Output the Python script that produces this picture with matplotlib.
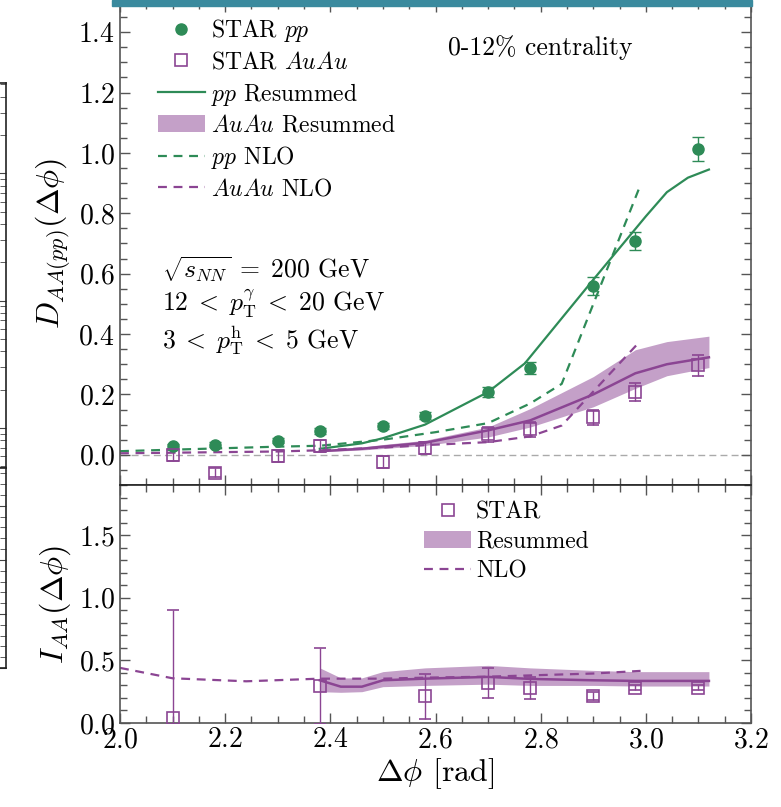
import numpy as np
import matplotlib
matplotlib.use("Agg")
import matplotlib.pyplot as plt
from matplotlib.patches import Rectangle, Patch
from matplotlib.lines import Line2D
from matplotlib.ticker import MultipleLocator, NullFormatter

plt.rcParams["font.family"] = "serif"
plt.rcParams["font.serif"] = ["cmr10"]
plt.rcParams["mathtext.fontset"] = "cm"
plt.rcParams["axes.formatter.use_mathtext"] = True

GREEN = "#2e8b57"
PURPLE = "#8b4593"
BAND = "#c4a0c8"
SPINE = "#555555"
DASH = (0, (4, 3))

# ---- STAR data, top panel
x_star = [2.10, 2.18, 2.30, 2.38, 2.50, 2.58, 2.70, 2.78, 2.90, 2.98, 3.10]
pp_star = [0.028, 0.033, 0.047, 0.080, 0.097, 0.129, 0.208, 0.289, 0.558, 0.708, 1.012]
pp_err = [0.008, 0.008, 0.008, 0.010, 0.010, 0.012, 0.015, 0.020, 0.030, 0.030, 0.040]
aa_star = [-0.002, -0.060, -0.004, 0.028, -0.023, 0.023, 0.068, 0.084, 0.124, 0.207, 0.296]
aa_err = [0.020, 0.015, 0.020, 0.020, 0.020, 0.020, 0.025, 0.025, 0.025, 0.030, 0.035]

# ---- theory curves, top panel
x_pp_res = [2.38, 2.46, 2.50, 2.58, 2.70, 2.77, 2.90, 2.95, 3.00, 3.04, 3.08, 3.12]
pp_res = [0.020, 0.038, 0.055, 0.100, 0.208, 0.303, 0.580, 0.685, 0.790, 0.870, 0.918, 0.945]

x_aa_res = [2.38, 2.46, 2.50, 2.58, 2.70, 2.78, 2.90, 2.98, 3.04, 3.12]
aa_res = [0.012, 0.020, 0.027, 0.040, 0.081, 0.114, 0.200, 0.270, 0.300, 0.323]
aa_res_lo = [0.010, 0.016, 0.021, 0.031, 0.059, 0.092, 0.159, 0.220, 0.262, 0.289]
aa_res_hi = [0.015, 0.026, 0.034, 0.048, 0.092, 0.153, 0.259, 0.348, 0.375, 0.393]

x_pp_nlo = [2.00, 2.10, 2.20, 2.30, 2.38, 2.50, 2.60, 2.70, 2.78, 2.84, 2.99]
pp_nlo = [0.012, 0.017, 0.022, 0.027, 0.030, 0.050, 0.075, 0.105, 0.170, 0.235, 0.895]

x_aa_nlo = [2.00, 2.10, 2.20, 2.30, 2.38, 2.50, 2.58, 2.70, 2.78, 2.84, 2.99]
aa_nlo = [0.005, 0.007, 0.009, 0.011, 0.015, 0.024, 0.032, 0.042, 0.061, 0.097, 0.378]

# ---- bottom panel (I_AA)
x_iaa = [2.10, 2.38, 2.58, 2.70, 2.78, 2.90, 2.98, 3.10]
iaa_star = [0.042, 0.296, 0.214, 0.323, 0.278, 0.214, 0.283, 0.283]
iaa_err = [0.86, 0.30, 0.18, 0.12, 0.09, 0.03, 0.02, 0.02]

x_iaa_res = [2.38, 2.42, 2.46, 2.50, 2.58, 2.70, 2.78, 2.90, 2.98, 3.12]
iaa_res = [0.341, 0.290, 0.290, 0.341, 0.354, 0.368, 0.352, 0.341, 0.336, 0.336]
iaa_res_lo = [0.250, 0.245, 0.250, 0.290, 0.300, 0.310, 0.300, 0.300, 0.295, 0.295]
iaa_res_hi = [0.440, 0.360, 0.360, 0.410, 0.440, 0.460, 0.440, 0.420, 0.410, 0.410]

x_iaa_nlo = [2.00, 2.10, 2.24, 2.38, 2.50, 2.58, 2.70, 2.78, 2.90, 2.99]
iaa_nlo = [0.440, 0.357, 0.333, 0.354, 0.354, 0.362, 0.370, 0.380, 0.395, 0.416]


def style_axis(ax):
    for s in ax.spines.values():
        s.set_color(SPINE)
        s.set_linewidth(1.2)
    ax.tick_params(which="both", direction="in", top=True, right=True,
                   color=SPINE, width=1.0, labelsize=20)
    ax.tick_params(which="major", length=7)
    ax.tick_params(which="minor", length=5)
    ax.xaxis.set_major_locator(MultipleLocator(0.2))
    ax.xaxis.set_minor_locator(MultipleLocator(0.05))


W, H = 781, 807
fig = plt.figure(figsize=(W / 100, H / 100), dpi=100)

left = 120 / W
width = 631 / W
ax1 = fig.add_axes([left, (H - 485) / H, width, 483 / H])
ax2 = fig.add_axes([left, (H - 723) / H, width, 238 / H])

# ---------- top panel
ax1.axhline(0.0, color="#aaaaaa", lw=1.0, ls=(0, (5, 3)), zorder=0)
ax1.errorbar(x_star, pp_star, yerr=pp_err, fmt="o", color=GREEN, ms=8,
             capsize=4, elinewidth=1.0, zorder=5)
ax1.errorbar(x_star, aa_star, yerr=aa_err, fmt="s", color=PURPLE, mfc="none",
             ms=8, mew=1.2, capsize=4, elinewidth=1.0, zorder=5)
ax1.plot(x_pp_res, pp_res, color=GREEN, lw=1.6)
ax1.fill_between(x_aa_res, aa_res_lo, aa_res_hi, color=BAND, lw=0)
ax1.plot(x_aa_res, aa_res, color=PURPLE, lw=1.8)
ax1.plot(x_pp_nlo, pp_nlo, color=GREEN, lw=1.6, ls=DASH)
ax1.plot(x_aa_nlo, aa_nlo, color=PURPLE, lw=1.6, ls=DASH)

ax1.set_xlim(2.0, 3.2)
ax1.set_ylim(-0.1, 1.5)
style_axis(ax1)
ax1.yaxis.set_minor_locator(MultipleLocator(0.05))
ax1.set_yticks(np.arange(0.0, 1.41, 0.2))
ax1.tick_params(labelbottom=False)
ax1.set_ylabel(r"$D_{AA(pp)}(\Delta\phi)$", fontsize=23, labelpad=4)

top_handles = [
    Line2D([], [], marker="o", ls="none", color=GREEN, ms=8),
    Line2D([], [], marker="s", ls="none", color=PURPLE, mfc="none", ms=8, mew=1.2),
    Line2D([], [], color=GREEN, lw=1.6),
    Patch(color=BAND, lw=0),
    Line2D([], [], color=GREEN, lw=1.6, ls=DASH),
    Line2D([], [], color=PURPLE, lw=1.6, ls=DASH),
]
top_labels = [r"STAR $pp$", r"STAR $AuAu$", r"$pp$ Resummed",
              r"$AuAu$ Resummed", r"$pp$ NLO", r"$AuAu$ NLO"]
ax1.legend(top_handles, top_labels, loc="upper left",
           bbox_to_anchor=(0.026, 1.012), frameon=False, fontsize=17,
           handlelength=2.0, handletextpad=0.25, labelspacing=0.3)

ax1.text(0.52, 0.905, "0-12% centrality", transform=ax1.transAxes,
         fontsize=18.5, va="center")
ax1.text(0.067, 0.445, r"$\sqrt{s_{NN}}\;=\;200$ GeV", transform=ax1.transAxes,
         fontsize=18.5, va="center")
ax1.text(0.067, 0.375, r"$12\;<\;p_{\mathrm{T}}^{\gamma}\;<\;20$ GeV",
         transform=ax1.transAxes, fontsize=18.5, va="center")
ax1.text(0.067, 0.30, r"$3\;<\;p_{\mathrm{T}}^{\mathrm{h}}\;<\;5$ GeV",
         transform=ax1.transAxes, fontsize=18.5, va="center")

# ---------- bottom panel
ax2.errorbar(x_iaa, iaa_star, yerr=iaa_err, fmt="s", color=PURPLE, mfc="none",
             ms=8, mew=1.2, capsize=4, elinewidth=1.0, zorder=5)
ax2.fill_between(x_iaa_res, iaa_res_lo, iaa_res_hi, color=BAND, lw=0)
ax2.plot(x_iaa_res, iaa_res, color=PURPLE, lw=1.8)
ax2.plot(x_iaa_nlo, iaa_nlo, color=PURPLE, lw=1.6, ls=DASH)

ax2.set_xlim(2.0, 3.2)
ax2.set_ylim(0.0, 1.9)
style_axis(ax2)
ax2.yaxis.set_major_locator(MultipleLocator(0.5))
ax2.yaxis.set_minor_locator(MultipleLocator(0.1))
ax2.set_ylabel(r"$I_{AA}(\Delta\phi)$", fontsize=23, labelpad=4)
ax2.set_xlabel(r"$\Delta\phi$ [rad]", fontsize=23, labelpad=2)
ax2.tick_params(axis="x", pad=3)
ax2.spines["top"].set_color("#222222")

bot_handles = [
    Line2D([], [], marker="s", ls="none", color=PURPLE, mfc="none", ms=8, mew=1.2),
    Patch(color=BAND, lw=0),
    Line2D([], [], color=PURPLE, lw=1.6, ls=DASH),
]
ax2.legend(bot_handles, ["STAR", "Resummed", "NLO"], loc="upper left",
           bbox_to_anchor=(0.448, 1.02), frameon=False, fontsize=17,
           handlelength=2.0, handletextpad=0.2, labelspacing=0.3)

# ---------- bits of the neighbouring figure that show in the crop
fig.patches.append(Rectangle((112 / W, 1 - 6 / H), 640 / W, 6 / H,
                             transform=fig.transFigure, color="#3a8a9e",
                             zorder=10))

axl1 = fig.add_axes([-0.05, (H - 468) / H, 0.05 + 6 / W, (468 - 83) / H])
axl1.set_yscale("log")
axl1.set_ylim(10 ** -2.315, 10 ** 0.709)
axl2 = fig.add_axes([-0.05, (H - 668) / H, 0.05 + 6 / W, 200 / H])
axl2.set_ylim(0, 1.85)
axl2.yaxis.set_major_locator(MultipleLocator(0.5))
axl2.yaxis.set_minor_locator(MultipleLocator(0.1))
for a in (axl1, axl2):
    a.set_xticks([])
    a.spines["left"].set_visible(False)
    for s in ("top", "bottom", "right"):
        a.spines[s].set_color("#222222")
        a.spines[s].set_linewidth(1.2)
    a.tick_params(which="both", axis="y", direction="in", left=False,
                  right=True, labelleft=False, color="#444444")
    a.tick_params(which="major", length=6)
    a.tick_params(which="minor", length=4)
axl1.yaxis.set_minor_formatter(NullFormatter())

fig.savefig("out.png", dpi=100)
